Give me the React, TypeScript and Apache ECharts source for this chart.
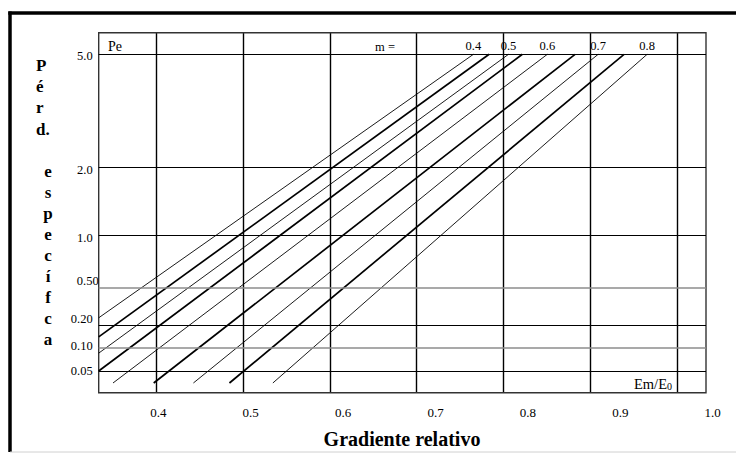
import React, { useEffect, useRef } from "react";
import * as echarts from "echarts";

// ---- data ----
const yTicks = [0.05, 0.1, 0.2, 0.5, 1.0, 2.0, 5.0];
const yTickLabels = ["0.05", "0.10", "0.20", "0.50", "1.0", "2.0", "5.0"];
const grayTicks = [0.1, 0.5];

const mLabels = ["0.4", "", "0.5", "", "0.6", "", "0.7", "", "0.8"];
const startEm = [0.3355, 0.3355, 0.3355, 0.3355, 0.351, 0.395, 0.438, 0.477, 0.524];
const startPe = [0.24, 0.14, 0.085, 0.05, 0.035, 0.035, 0.035, 0.035, 0.035];
const endEm = [0.741, 0.758, 0.779, 0.794, 0.821, 0.851, 0.876, 0.904, 0.929];
const endPe = [5.0, 5.0, 5.0, 5.0, 5.0, 5.0, 5.0, 5.0, 5.0];

// ---- nomogram scale: where each Pe tick sits (percent of plot height) ----
const yTickScale = [6.03, 12.5, 18.72, 29.17, 43.81, 62.61, 94.0];
// vertical nudge of each tick label against its line (px, + = down)
const yLabelNudge = [0, -2, -6, -7, 3, 3, 2];

function peToU(p: number): number {
  const L = Math.log10(p);
  const ls = yTicks.map((t) => Math.log10(t));
  const n = ls.length;
  let i = 0;
  if (L <= ls[1]) i = 0;
  else if (L >= ls[n - 2]) i = n - 2;
  else {
    for (i = 0; i < n - 1; i++) if (L >= ls[i] && L <= ls[i + 1]) break;
  }
  return yTickScale[i] + ((L - ls[i]) / (ls[i + 1] - ls[i])) * (yTickScale[i + 1] - yTickScale[i]);
}

const SERIF = '"Liberation Serif", "Times New Roman", serif';

export default function App() {
  const ref = useRef<HTMLDivElement>(null);
  useEffect(() => {
    if (!ref.current) return;
    const chart = echarts.init(ref.current, null, { renderer: "svg" });

    const PLOT_TOP = 32.7;
    const PLOT_H = 360;

    const lineSeries: any[] = mLabels.map((m, i) => ({
      type: "line",
      xAxisIndex: 0,
      yAxisIndex: 0,
      name: m || "m" + i,
      symbol: "none",
      silent: true,
      lineStyle: { color: "#000", width: m ? 0.9 : 1.7 },
      data: [
        [startEm[i], peToU(startPe[i])],
        [endEm[i], peToU(endPe[i])],
      ],
      z: 3,
    }));

    lineSeries[0].markLine = {
      silent: true,
      symbol: ["none", "none"],
      animation: false,
      data: yTicks.map((t, i) => {
        const s = yLabelNudge[i];
        const txt = s > 0 ? "\n" + yTickLabels[i] : s < 0 ? yTickLabels[i] + "\n" : yTickLabels[i];
        return {
          yAxis: peToU(t),
          lineStyle: {
            color: grayTicks.includes(t) ? "#8c8c8c" : "#000",
            width: grayTicks.includes(t) ? 1.6 : 1,
            type: "solid",
          },
          label: {
            show: true,
            position: "start",
            formatter: txt,
            distance: t === 0.5 ? 0 : 6,
            color: "#000",
            fontFamily: SERIF,
            fontSize: 12.5,
            lineHeight: s === 0 ? 14 : Math.abs(s) * 2,
          },
        };
      }),
    };

    const labelSeries = {
      type: "scatter",
      xAxisIndex: 0,
      yAxisIndex: 0,
      symbolSize: 0,
      silent: true,
      itemStyle: { opacity: 1 },
      data: mLabels
        .map((m, i) => ({ m, i }))
        .filter((d) => d.m)
        .map((d) => ({ name: d.m, value: [endEm[d.i], peToU(endPe[d.i])] })),
      label: {
        show: true,
        position: "top",
        distance: 2,
        formatter: (p: any) => p.name,
        color: "#000",
        opacity: 1,
        fontFamily: SERIF,
        fontSize: 12.5,
      },
      z: 4,
    };

    const option: any = {
      animation: false,
      backgroundColor: "#fff",
      textStyle: { fontFamily: SERIF },
      grid: [
        {
          left: 98.7,
          top: PLOT_TOP,
          width: 607.3,
          height: PLOT_H,
          show: true,
          borderColor: "#333",
          borderWidth: 1.4,
          backgroundColor: "transparent",
          z: 2,
        },
        { left: 156.3, top: PLOT_TOP, width: 520.7, height: PLOT_H },
        { left: 158.3, top: PLOT_TOP, width: 554.4, height: PLOT_H },
      ],
      xAxis: [
        {
          gridIndex: 0,
          type: "value",
          min: 0.3355,
          max: 0.9927,
          show: false,
        },
        {
          gridIndex: 1,
          type: "value",
          min: 0.4,
          max: 1.0,
          interval: 0.1,
          axisLine: { show: false },
          axisTick: { show: false },
          axisLabel: { show: false },
          splitLine: { show: true, lineStyle: { color: "#000", width: 1.4 } },
        },
        {
          gridIndex: 2,
          type: "value",
          min: 0.4,
          max: 1.0,
          interval: 0.1,
          axisLine: { show: false },
          axisTick: { show: false },
          splitLine: { show: false },
          axisLabel: {
            show: true,
            margin: 13,
            color: "#000",
            fontFamily: SERIF,
            fontSize: 13,
            formatter: (v: number) => v.toFixed(1),
          },
        },
      ],
      yAxis: [
        { gridIndex: 0, type: "value", min: 0, max: 100, show: false },
        { gridIndex: 1, type: "value", min: 0, max: 100, show: false },
        { gridIndex: 2, type: "value", min: 0, max: 100, show: false },
      ],
      graphic: [
        {
          type: "line",
          shape: { x1: 10, y1: 11.5, x2: 10, y2: 452 },
          style: { stroke: "#000", lineWidth: 3.5 },
        },
        {
          type: "line",
          shape: { x1: 8.3, y1: 13, x2: 736, y2: 13 },
          style: { stroke: "#000", lineWidth: 3.5 },
        },
        {
          type: "line",
          shape: { x1: 10, y1: 452, x2: 736, y2: 452 },
          style: { stroke: "#d0d0d0", lineWidth: 1 },
        },
        {
          type: "text",
          style: {
            text: "P\né\nr\nd.",
            x: 36,
            y: 54.5,
            textAlign: "left",
            textVerticalAlign: "top",
            lineHeight: 21.3,
            font: `bold 17px ${SERIF}`,
            fill: "#000",
          },
        },
        {
          type: "text",
          style: {
            text: "e\ns\np\ne\nc\ní\nf\nc\na",
            x: 48,
            y: 161.2,
            textAlign: "center",
            textVerticalAlign: "top",
            lineHeight: 21,
            font: `bold 17px ${SERIF}`,
            fill: "#000",
          },
        },
        {
          type: "text",
          style: {
            text: "Gradiente relativo",
            x: 402,
            y: 439,
            textAlign: "center",
            textVerticalAlign: "middle",
            font: `bold 20px ${SERIF}`,
            fill: "#000",
          },
        },
        {
          type: "text",
          style: {
            text: "Pe",
            x: 108,
            y: 46,
            textAlign: "left",
            textVerticalAlign: "middle",
            font: `14px ${SERIF}`,
            fill: "#000",
          },
        },
        {
          type: "text",
          style: {
            text: "m =",
            x: 385,
            y: 47,
            textAlign: "center",
            textVerticalAlign: "middle",
            font: `12.5px ${SERIF}`,
            fill: "#000",
          },
        },
        {
          type: "text",
          style: {
            text: "{a|Em/E}{b|0}",
            x: 672,
            y: 384,
            textAlign: "right",
            textVerticalAlign: "middle",
            rich: {
              a: { fontFamily: SERIF, fontSize: 14.5, fill: "#000" },
              b: { fontFamily: SERIF, fontSize: 10, fill: "#000", padding: [5, 0, 0, 0] },
            },
          },
        },
      ],
      series: [...lineSeries, labelSeries],
    };

    chart.setOption(option);
    return () => chart.dispose();
  }, []);

  return (
    <div
      ref={ref}
      style={{ position: "fixed", left: 0, top: 0, width: 736, height: 468 }}
    />
  );
}
